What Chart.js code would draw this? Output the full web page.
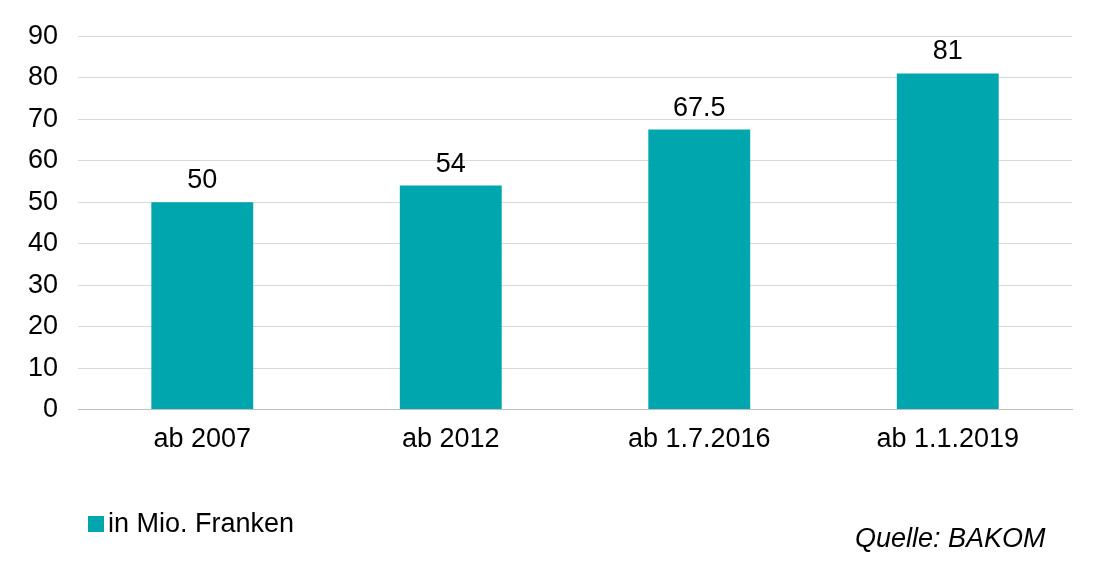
<!DOCTYPE html>
<html>
<head>
<meta charset="utf-8">
<script src="https://cdn.jsdelivr.net/npm/chart.js@4"></script>
<style>
  body { margin: 0; background: #fff; font-family: "Liberation Sans", Arial, sans-serif; }
  #wrap { position: relative; width: 1094px; height: 572px; }
  #legend { position: absolute; left: 88px; top: 508px; font-size: 27px; color: #000; }
  #legend span { display: inline-block; width: 16px; height: 16px; background: #00A6AD; margin-right: 4px; }
  #source { position: absolute; left: 855px; top: 523px; font-size: 27px; font-style: italic; color: #000; }
</style>
</head>
<body>
<div id="wrap">
  <canvas id="chart" width="1094" height="572"></canvas>
  <div id="legend"><span></span>in Mio. Franken</div>
  <div id="source">Quelle: BAKOM</div>
</div>
<script>
var categories = ["ab 2007", "ab 2012", "ab 1.7.2016", "ab 1.1.2019"];
var values = [50, 54, 67.5, 81];
var valueLabels = ["50", "54", "67.5", "81"];

var barLabels = {
    id: 'barLabels',
    afterDatasetsDraw: function (chart) {
        var ctx = chart.ctx;
        var meta = chart.getDatasetMeta(0);
        ctx.save();
        ctx.font = '27px "Liberation Sans", Arial, sans-serif';
        ctx.fillStyle = '#000';
        ctx.textAlign = 'center';
        ctx.textBaseline = 'bottom';
        meta.data.forEach(function (bar, i) {
            ctx.fillText(valueLabels[i], bar.x, bar.y - 8);
        });
        ctx.restore();
    }
};

document.addEventListener("DOMContentLoaded", function () {
    var ctx = document.getElementById('chart').getContext('2d');
    new Chart(ctx, {
        type: 'bar',
        data: {
            labels: categories,
            datasets: [{
                label: 'in Mio. Franken',
                data: values,
                backgroundColor: '#00A6AD',
                barPercentage: 0.41,
                categoryPercentage: 1
            }]
        },
        options: {
            responsive: false,
            animation: false,
            layout: { padding: { left: 8, right: 22, top: 8, bottom: 102 } },
            plugins: { legend: { display: false }, tooltip: { enabled: false } },
            scales: {
                x: {
                    grid: { display: false, drawTicks: false },
                    border: { color: '#bfbfbf' },
                    ticks: { color: '#000', padding: 14, font: { size: 27, family: '"Liberation Sans", Arial' } }
                },
                y: {
                    min: 0,
                    max: 90,
                    ticks: { stepSize: 10, color: '#000', padding: 20, font: { size: 27, family: '"Liberation Sans", Arial' } },
                    grid: { color: '#d9d9d9', drawTicks: false },
                    border: { display: false }
                }
            }
        },
        plugins: [barLabels]
    });
});
</script>
</body>
</html>
